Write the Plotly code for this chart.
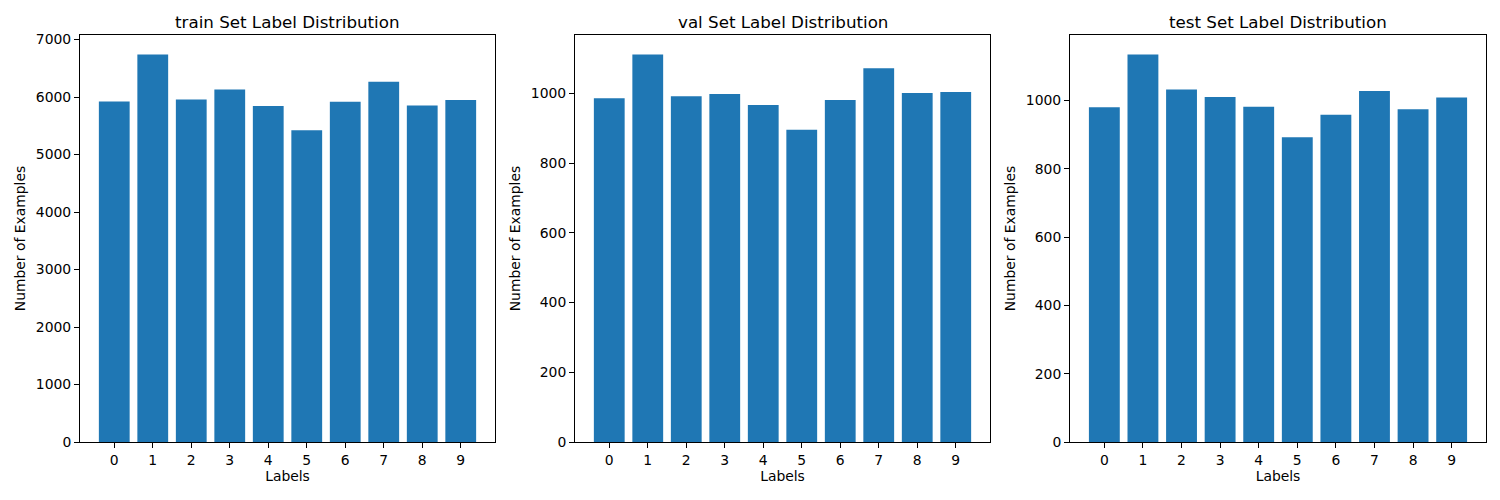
import plotly.graph_objects as go
from plotly.subplots import make_subplots

labels = [0, 1, 2, 3, 4, 5, 6, 7, 8, 9]
train_counts = [5923, 6742, 5958, 6131, 5842, 5421, 5918, 6265, 5851, 5949]
val_counts = [986, 1112, 992, 998, 967, 896, 981, 1072, 1001, 1004]
test_counts = [980, 1135, 1032, 1010, 982, 892, 958, 1028, 974, 1009]
split_names = ['train', 'val', 'test']

W, H = 1500, 500
off = 8  # page body margin shifts the figure
x_px = [(80, 495), (575, 990), (1070, 1486)]
y_px = (35, 442)

fig = make_subplots(rows=1, cols=3)
font = dict(family='DejaVu Sans', size=13.9, color='black')

for i, (name, counts) in enumerate(zip(split_names, [train_counts, val_counts, test_counts])):
    fig.add_trace(go.Bar(x=labels, y=counts, marker_color='#1f77b4',
                         marker_line_width=0, showlegend=False), row=1, col=i + 1)
    dom_x = [(x_px[i][0] - off) / W, (x_px[i][1] - off) / W]
    dom_y = [(H - y_px[1] + off) / H, (H - y_px[0] + off) / H]
    ax = '' if i == 0 else str(i + 1)
    fig.layout['xaxis' + ax].update(
        domain=dom_x, range=[-0.89, 9.89], tickmode='array', tickvals=labels,
        ticks='outside', ticklen=5, tickcolor='black', showline=True, linecolor='black',
        mirror=True, showgrid=False, zeroline=False, tickfont=font, automargin=False,
        title=dict(text='Labels', font=font, standoff=4))
    top = max(counts) * 1.05
    fig.layout['yaxis' + ax].update(
        domain=dom_y, range=[0, top], ticks='outside', ticklen=5, tickcolor='black',
        showline=True, linecolor='black', mirror=True, showgrid=False, zeroline=False,
        tickfont=font, automargin=False,
        title=dict(text='Number of Examples', font=font, standoff=6))
    fig.add_annotation(text=f'{name} Set Label Distribution', xref='paper', yref='paper',
                       x=(dom_x[0] + dom_x[1]) / 2, y=dom_y[1], yshift=1,
                       xanchor='center', yanchor='bottom', showarrow=False,
                       font=dict(family='DejaVu Sans', size=16.7, color='black'))

fig.update_layout(width=W, height=H, margin=dict(l=0, r=0, t=0, b=0),
                  plot_bgcolor='white', paper_bgcolor='white', bargap=0.2)
fig.write_html("out.html")
